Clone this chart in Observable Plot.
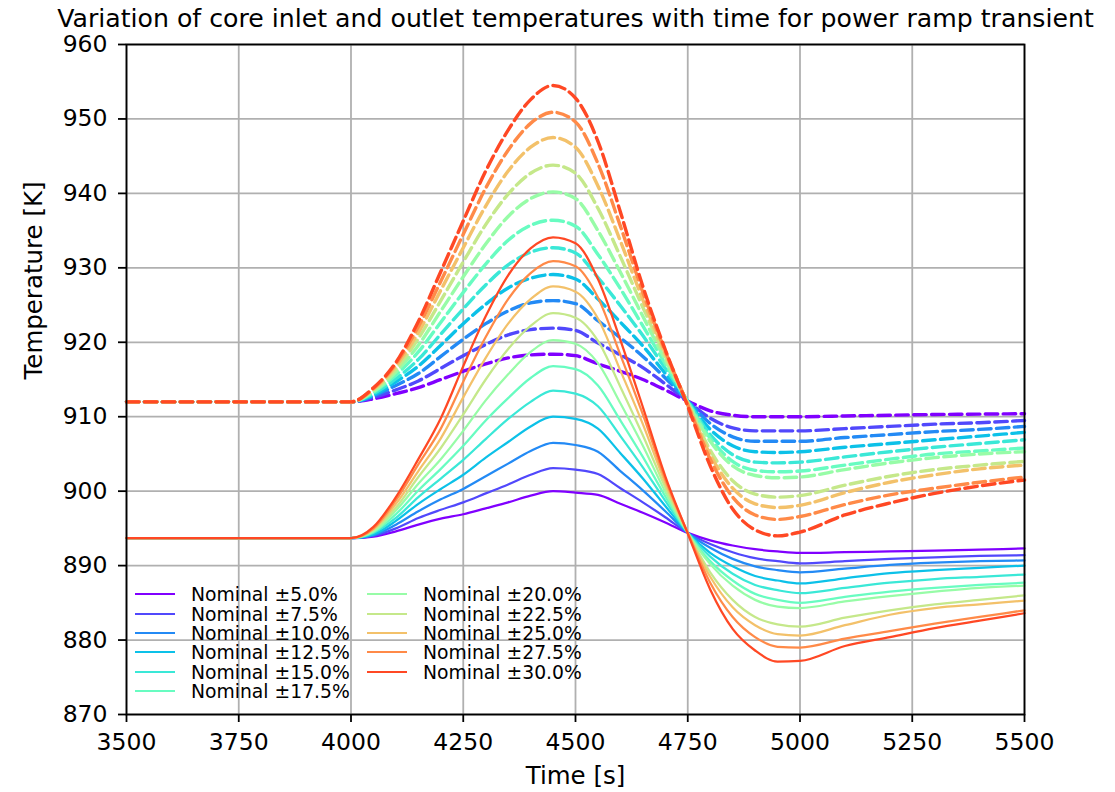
<!DOCTYPE html>
<html>
<head>
<meta charset="utf-8">
<script src="https://cdn.jsdelivr.net/npm/d3@7"></script>
<script src="https://cdn.jsdelivr.net/npm/@observablehq/plot@0.6"></script>
<style>
  body { margin: 0; background: #fff; }
  #wrap { position: relative; width: 1115px; height: 792px; font-family: "DejaVu Sans", sans-serif; }
  .leg { position: absolute; display: flex; align-items: center; height: 20px; font-size: 18.75px; color: #000; white-space: nowrap; }
  .sw { width: 40px; height: 2px; margin-right: 16px; }
</style>
</head>
<body>
<div id="wrap"></div>
<script>
const title = "Variation of core inlet and outlet temperatures with time for power ramp transient";
const xLabel = "Time [s]";
const yLabel = "Temperature [K]";
const xTicks = [3500, 3750, 4000, 4250, 4500, 4750, 5000, 5250, 5500];
const yTicks = [870, 880, 890, 900, 910, 920, 930, 940, 950, 960];
const pcts = ["5.0", "7.5", "10.0", "12.5", "15.0", "17.5", "20.0", "22.5", "25.0", "27.5", "30.0"];

const time = [3500, 4000, 4050, 4100, 4150, 4200, 4250, 4300, 4350, 4400, 4450, 4500, 4550, 4600, 4650, 4700, 4750, 4800, 4850, 4900, 4950, 5000, 5100, 5200, 5300, 5400, 5500];

// core outlet temperatures (dashed)
const outlet_05_0 = [912, 912, 912.4, 913.1, 913.9, 915.0, 916.1, 917.1, 917.9, 918.3, 918.4, 918.2, 917.1, 916.1, 915.0, 913.6, 912.1, 910.8, 910.2, 910.0, 910.0, 910.0, 910.1, 910.2, 910.3, 910.35, 910.4];
const outlet_07_5 = [912, 912, 912.6, 913.6, 914.8, 916.5, 918.2, 919.7, 921.0, 921.7, 921.9, 921.6, 919.9, 918.3, 916.6, 914.4, 912.1, 909.8, 908.5, 908.1, 908.1, 908.1, 908.4, 908.7, 909.0, 909.2, 909.5];
const outlet_10_0 = [912, 912, 912.8, 914.2, 915.8, 918.1, 920.4, 922.5, 924.2, 925.3, 925.6, 925.2, 922.9, 920.6, 918.1, 915.2, 912.1, 909.1, 907.3, 906.7, 906.7, 906.7, 907.2, 907.6, 908.0, 908.3, 908.7];
const outlet_12_5 = [912, 912, 912.9, 914.7, 916.8, 919.6, 922.5, 925.1, 927.3, 928.6, 929.1, 928.5, 925.8, 922.7, 919.5, 915.8, 912.1, 908.3, 906.1, 905.3, 905.2, 905.3, 905.9, 906.4, 906.9, 907.4, 907.9];
const outlet_15_0 = [912, 912, 913.1, 915.1, 917.7, 921.1, 924.5, 927.7, 930.4, 932.1, 932.7, 932.0, 928.7, 924.9, 920.9, 916.5, 912.1, 907.6, 904.9, 903.9, 903.8, 903.9, 904.6, 905.3, 905.9, 906.4, 906.9];
const outlet_17_5 = [912, 912, 913.3, 915.6, 918.7, 922.7, 926.7, 930.5, 933.7, 935.7, 936.4, 935.6, 931.8, 927.2, 922.2, 917.1, 912.0, 907.1, 904.0, 902.8, 902.6, 902.7, 903.5, 904.3, 905.0, 905.4, 905.8];
const outlet_20_0 = [912, 912, 913.4, 916.0, 919.6, 924.2, 928.8, 933.2, 936.9, 939.3, 940.2, 939.3, 935.0, 929.4, 923.5, 917.6, 911.9, 906.7, 903.4, 902.1, 901.8, 901.9, 902.9, 903.8, 904.5, 905.0, 905.3];
const outlet_22_5 = [912, 912, 913.6, 916.4, 920.5, 925.6, 930.8, 935.8, 939.9, 942.7, 943.8, 942.7, 938.0, 931.5, 924.7, 918.1, 911.8, 905.5, 901.4, 899.6, 899.2, 899.4, 900.8, 902.0, 902.9, 903.5, 904.0];
const outlet_25_0 = [912, 912, 913.7, 916.8, 921.3, 927.0, 932.7, 938.3, 943.0, 946.2, 947.5, 946.2, 941.0, 933.6, 925.7, 918.5, 911.7, 904.9, 900.4, 898.3, 897.8, 898.1, 899.8, 901.2, 902.2, 903.0, 903.5];
const outlet_27_5 = [912, 912, 913.8, 917.1, 922.1, 928.2, 934.5, 940.7, 945.8, 949.4, 950.9, 949.6, 944.0, 935.6, 926.7, 918.8, 911.6, 904.3, 899.2, 896.8, 896.2, 896.6, 898.2, 899.5, 900.4, 901.2, 901.9];
const outlet_30_0 = [912, 912, 913.9, 917.3, 922.8, 929.5, 936.3, 943.0, 948.5, 952.6, 954.5, 952.8, 947.0, 937.5, 927.5, 919.0, 911.4, 903.4, 897.6, 894.8, 894.0, 894.5, 896.8, 898.4, 899.7, 900.7, 901.5];

// core inlet temperatures (solid)
const inlet_05_0 = [893.7, 893.7, 893.9, 894.6, 895.5, 896.3, 896.9, 897.7, 898.5, 899.4, 900.0, 899.8, 899.5, 898.3, 897.1, 895.8, 894.4, 893.4, 892.7, 892.2, 891.9, 891.7, 891.8, 891.9, 892.0, 892.15, 892.3];
const inlet_07_5 = [893.7, 893.7, 894.0, 895.0, 896.4, 897.5, 898.5, 899.7, 900.9, 902.2, 903.1, 902.9, 902.3, 900.4, 898.5, 896.5, 894.4, 892.9, 891.8, 891.0, 890.6, 890.3, 890.6, 890.9, 891.1, 891.3, 891.4];
const inlet_10_0 = [893.7, 893.7, 894.1, 895.5, 897.3, 898.9, 900.3, 902.0, 903.7, 905.4, 906.5, 906.2, 905.3, 902.7, 900.1, 897.3, 894.4, 892.4, 890.9, 889.9, 889.4, 889.1, 889.6, 890.1, 890.4, 890.6, 890.7];
const inlet_12_5 = [893.7, 893.7, 894.2, 896.0, 898.3, 900.3, 902.2, 904.5, 906.6, 908.7, 910.0, 909.7, 908.4, 905.1, 901.7, 898.0, 894.4, 891.7, 889.9, 888.6, 888.0, 887.6, 888.3, 889.0, 889.4, 889.7, 890.0];
const inlet_15_0 = [893.7, 893.7, 894.4, 896.4, 899.2, 901.7, 904.2, 907.0, 909.7, 912.0, 913.5, 913.1, 911.4, 907.4, 903.2, 898.7, 894.4, 891.2, 888.9, 887.4, 886.7, 886.3, 887.0, 887.7, 888.2, 888.5, 888.8];
const inlet_17_5 = [893.7, 893.7, 894.5, 896.9, 900.1, 903.0, 906.1, 909.5, 912.5, 915.2, 916.8, 916.4, 914.2, 909.5, 904.6, 899.3, 894.4, 890.6, 888.0, 886.2, 885.4, 885.0, 885.8, 886.5, 887.0, 887.4, 887.7];
const inlet_20_0 = [893.7, 893.7, 894.6, 897.4, 901.0, 904.3, 908.1, 912.2, 915.7, 918.7, 920.3, 919.8, 917.2, 911.8, 906.1, 899.9, 894.4, 890.2, 887.3, 885.4, 884.5, 884.3, 885.2, 885.9, 886.5, 887.0, 887.3];
const inlet_22_5 = [893.7, 893.7, 894.8, 897.8, 901.9, 905.8, 910.3, 915.0, 919.1, 922.2, 923.9, 923.3, 920.2, 914.0, 907.5, 900.5, 894.4, 889.1, 885.4, 883.1, 882.1, 881.8, 883.0, 884.0, 884.8, 885.4, 886.0];
const inlet_25_0 = [893.7, 893.7, 894.9, 898.3, 902.7, 907.1, 912.6, 917.9, 922.5, 925.8, 927.5, 926.8, 923.2, 916.2, 909.0, 901.1, 894.4, 888.5, 884.4, 882.0, 880.8, 880.6, 882.0, 883.4, 884.3, 884.8, 885.3];
const inlet_27_5 = [893.7, 893.7, 895.0, 898.8, 903.6, 908.4, 914.7, 920.7, 925.8, 929.3, 930.9, 930.2, 926.0, 918.3, 910.3, 901.6, 894.4, 887.7, 883.1, 880.4, 879.1, 879.0, 880.2, 881.2, 882.2, 883.1, 884.0];
const inlet_30_0 = [893.7, 893.7, 895.2, 899.2, 904.3, 909.8, 916.8, 923.5, 929.0, 932.6, 934.1, 933.3, 928.5, 920.3, 911.3, 902.0, 894.3, 886.8, 881.5, 878.6, 877.1, 877.2, 879.2, 880.4, 881.6, 882.6, 883.6];

const outlets = [outlet_05_0, outlet_07_5, outlet_10_0, outlet_12_5, outlet_15_0, outlet_17_5, outlet_20_0, outlet_22_5, outlet_25_0, outlet_27_5, outlet_30_0];
const inlets = [inlet_05_0, inlet_07_5, inlet_10_0, inlet_12_5, inlet_15_0, inlet_17_5, inlet_20_0, inlet_22_5, inlet_25_0, inlet_27_5, inlet_30_0];

// matplotlib "rainbow" colormap
function rainbow(x) {
  const r = Math.min(1, Math.abs(2 * x - 0.5));
  const g = Math.sin(Math.PI * x);
  const b = Math.cos(Math.PI * x / 2);
  return d3.rgb(r * 255, g * 255, b * 255).formatHex();
}
const colors = pcts.map((_, i) => rainbow(i / 11));

const toRows = (vals) => time.map((t, j) => ({t, v: vals[j]}));

const lineMarks = [];
pcts.forEach((p, i) => {
  lineMarks.push(Plot.line(toRows(outlets[i]), {x: "t", y: "v", stroke: colors[i], strokeWidth: 3.4, strokeDasharray: "12.5,5.4", curve: "monotone-x"}));
  lineMarks.push(Plot.line(toRows(inlets[i]), {x: "t", y: "v", stroke: colors[i], strokeWidth: 2.25, curve: "monotone-x"}));
});

const chart = Plot.plot({
  width: 1115,
  height: 792,
  marginLeft: 126,
  marginRight: 91,
  marginTop: 44,
  marginBottom: 78,
  style: {fontFamily: "DejaVu Sans, sans-serif", fontSize: "23.5px", color: "#000", background: "#fff", overflow: "visible"},
  x: {domain: [3500, 5500]},
  y: {domain: [870, 960]},
  marks: [
    Plot.gridX(xTicks, {stroke: "#b0b0b0", strokeOpacity: 1, strokeWidth: 1.8}),
    Plot.gridY(yTicks, {stroke: "#b0b0b0", strokeOpacity: 1, strokeWidth: 1.8}),
    ...lineMarks,
    Plot.frame({stroke: "#000", strokeWidth: 1.8}),
    Plot.axisX(xTicks, {tickSize: 8, tickPadding: 11, strokeWidth: 1.8, fontSize: 23.5, tickFormat: d => String(d), label: null}),
    Plot.axisY(yTicks, {tickSize: 8, tickPadding: 11, strokeWidth: 1.8, fontSize: 23.5, tickFormat: d => String(d), label: null}),
    Plot.text([xLabel], {text: d => d, frameAnchor: "bottom", lineAnchor: "middle", dy: 62, fontSize: 24.5, fill: "#000"}),
    Plot.text([yLabel], {text: d => d, frameAnchor: "left", lineAnchor: "middle", dx: -92, rotate: -90, fontSize: 24.5, fill: "#000"}),
    Plot.text([title], {text: d => d, frameAnchor: "top", lineAnchor: "middle", dy: -25.5, fontSize: 25.2, fill: "#000"})
  ]
});

const wrap = document.getElementById("wrap");
wrap.appendChild(chart);

// legend (two columns, no frame)
pcts.forEach((p, i) => {
  const col = i < 6 ? 0 : 1;
  const row = i < 6 ? i : i - 6;
  const item = document.createElement("div");
  item.className = "leg";
  item.style.left = (135 + col * 232) + "px";
  item.style.top = Math.round(594.3 + row * 19.33 - 10) + "px";
  const sw = document.createElement("div");
  sw.className = "sw";
  sw.style.background = colors[i];
  const tx = document.createElement("span");
  tx.textContent = `Nominal \u00b1${p}%`;
  item.appendChild(sw);
  item.appendChild(tx);
  wrap.appendChild(item);
});
</script>
</body>
</html>
